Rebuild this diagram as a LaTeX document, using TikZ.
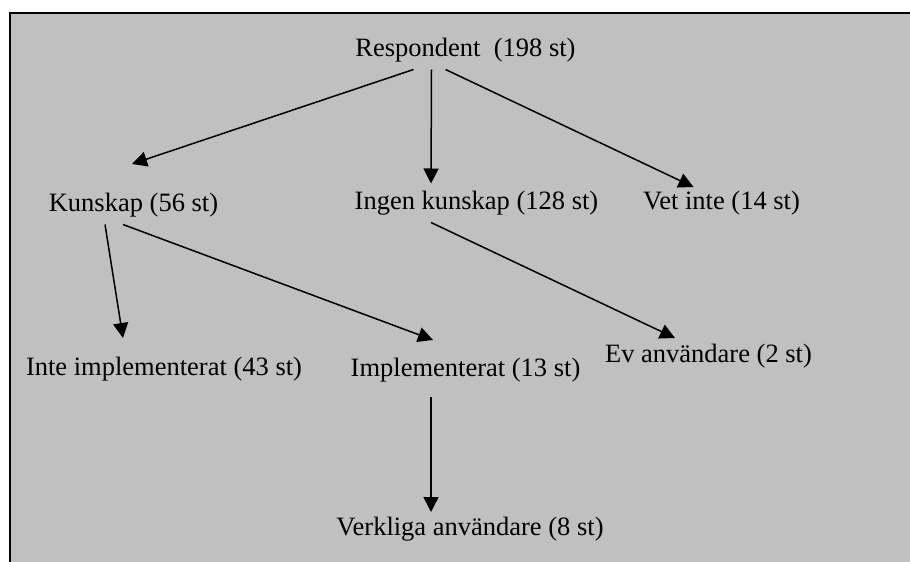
\documentclass[tikz,border=0pt]{standalone}
\usepackage{fontspec}
\setmainfont{Liberation Serif}
\usetikzlibrary{arrows.meta}
\definecolor{bakgrund}{HTML}{C0C0C0}

\begin{document}
\begin{tikzpicture}[x=1pt,y=-1pt,
        svar/.style={inner sep=0pt,outer xsep=0pt,outer ysep=8pt,text height=18pt,text depth=5pt,font=\fontsize{26.5}{30}\selectfont},
        pil/.style={line width=1.5pt,-{Triangle[length=15pt,width=15pt]}}]
            \useasboundingbox (0,0) rectangle (910,562);
            \fill[bakgrund] (9,13) rectangle (910,562);
            \draw[line width=2pt] (9.5,562) -- (9.5,13) -- (910,13);
            % svarsgrupper
            \node[svar] (resp) at (465.5,50) {Respondent~ (198 st)};
            \node[svar] (kun) at (133.5,205) {Kunskap (56 st)};
            \node[svar] (ingen) at (476.5,203) {Ingen kunskap (128 st)};
            \node[svar] (vet) at (721.5,203) {Vet inte (14 st)};
            \node[svar] (inte) at (164,369) {Inte implementerat (43 st)};
            \node[svar] (impl) at (465.5,370) {Implementerat (13 st)};
            \node[svar] (ev) at (708.5,356) {Ev användare (2 st)};
            \node[svar] (verk) at (470,529) {Verkliga användare (8 st)};
            % pilar
            \draw[pil] ([xshift=-52pt]resp.south) -- ([xshift=-1.5pt,yshift=21.5pt]kun.north);
            \draw[pil] ([xshift=-34pt]resp.south) -- ([xshift=-45.5pt]ingen.north);
            \draw[pil] ([xshift=-20pt]resp.south) -- ([xshift=-28pt,yshift=-3.5pt]vet.north);
            \draw[pil] ([xshift=-28.5pt]kun.south) -- ([xshift=-41pt,yshift=11.5pt]inte.north);
            \draw[pil] ([xshift=-10.5pt]kun.south) -- ([xshift=-32.5pt,yshift=10.5pt]impl.north);
            \draw[pil] ([xshift=-45.5pt]ingen.south) -- ([xshift=-33.5pt,yshift=-1.5pt]ev.north);
            \draw[pil] ([xshift=-34.5pt,yshift=-7.5pt]impl.south) -- ([xshift=-39pt,yshift=-2.5pt]verk.north);
        \end{tikzpicture}
\end{document}
